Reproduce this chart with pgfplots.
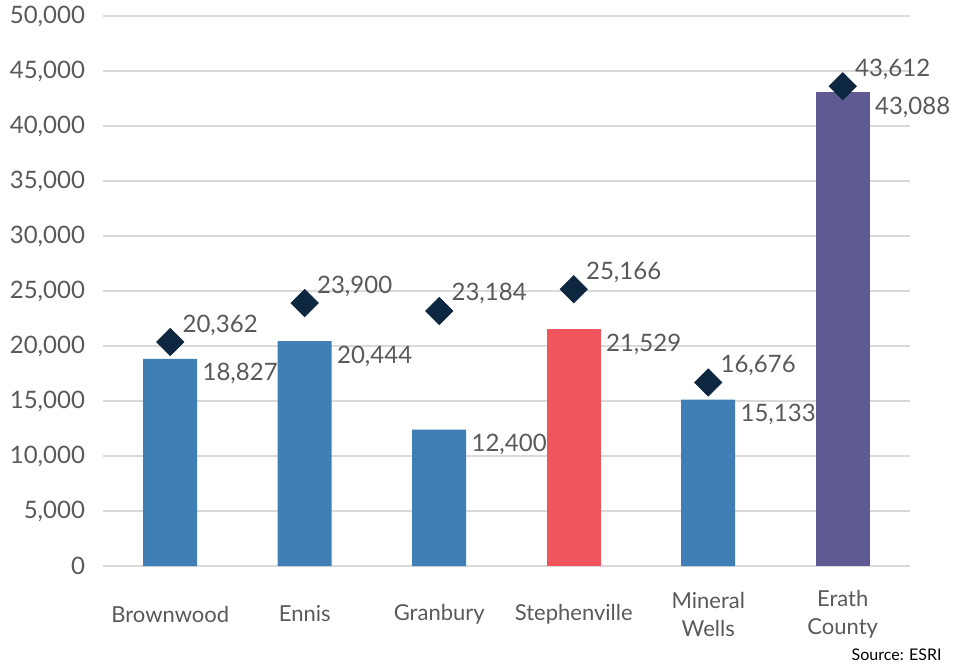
\documentclass[border=0pt]{standalone}
\usepackage{pgfplots}
\pgfplotsset{compat=1.18}
\usepackage{fontspec}
\setmainfont{Lato}

\definecolor{barblue}{HTML}{3F7FB5}
\definecolor{barred}{HTML}{F0555E}
\definecolor{barpurple}{HTML}{5F5B92}
\definecolor{marknavy}{HTML}{0D2740}
\definecolor{txtgray}{HTML}{595959}
\definecolor{gridgray}{HTML}{D9D9D9}

\begin{document}
\begin{tikzpicture}
\useasboundingbox (-51.5pt,-49pt) rectangle (430pt,283pt);
\begin{axis}[
  at={(0,0)}, anchor=south west,
  scale only axis,
  width=403.5pt, height=275pt,
  xmin=-0.5, xmax=5.5,
  ymin=0, ymax=50000,
  ytick={0,5000,...,50000},
  xtick={0,1,2,3,4,5},
  xticklabels={Brownwood, Ennis, Granbury, Stephenville, {Mineral\\Wells}, {Erath\\County}},
  axis line style={draw=none},
  major tick length=0pt,
  ymajorgrids,
  grid style={gridgray, line width=0.6pt},
  scaled y ticks=false,
  /pgf/number format/.cd, fixed, precision=0, 1000 sep={,}, assume math mode=true,
  /pgfplots/.cd,
  yticklabel style={font=\fontsize{12}{14}\selectfont, text=txtgray, xshift=-5.5pt},
  xticklabel style={font=\fontsize{11}{14}\selectfont, text=txtgray, align=center, anchor=center, yshift=-24pt},
  clip=false,
]
% bar values, labelled beside the top of each bar
\pgfplotsset{barlabel/.style={
  nodes near coords,
  nodes near coords style={anchor=base west, xshift=16pt, yshift=-11pt,
    font=\fontsize{12}{14}\selectfont, text=txtgray, inner sep=0pt},
}}
\addplot[ybar, bar width=27pt, bar shift=0pt, fill=barblue, draw=none, barlabel]
  coordinates {(0,18827) (1,20444) (2,12400) (4,15133)};
\addplot[ybar, bar width=27pt, bar shift=0pt, fill=barred, draw=none, barlabel]
  coordinates {(3,21529)};
\addplot[ybar, bar width=27pt, bar shift=0pt, fill=barpurple, draw=none, barlabel]
  coordinates {(5,43088)};
% diamond markers with their values above and to the right
\addplot[only marks, mark=square*, mark size=4.8pt, mark options={rotate=45, fill=marknavy, draw=marknavy},
  nodes near coords,
  nodes near coords style={anchor=base west, xshift=6pt, yshift=5pt,
    font=\fontsize{12}{14}\selectfont, text=txtgray, inner sep=0pt}]
  coordinates {(0,20362) (1,23900) (2,23184) (3,25166) (4,16676) (5,43612)};
\end{axis}
\node[anchor=base east, font=\fontsize{8}{10}\selectfont, text=black, inner sep=0pt] at (419.5pt,-47pt) {Source: ESRI};
\end{tikzpicture}
\end{document}
